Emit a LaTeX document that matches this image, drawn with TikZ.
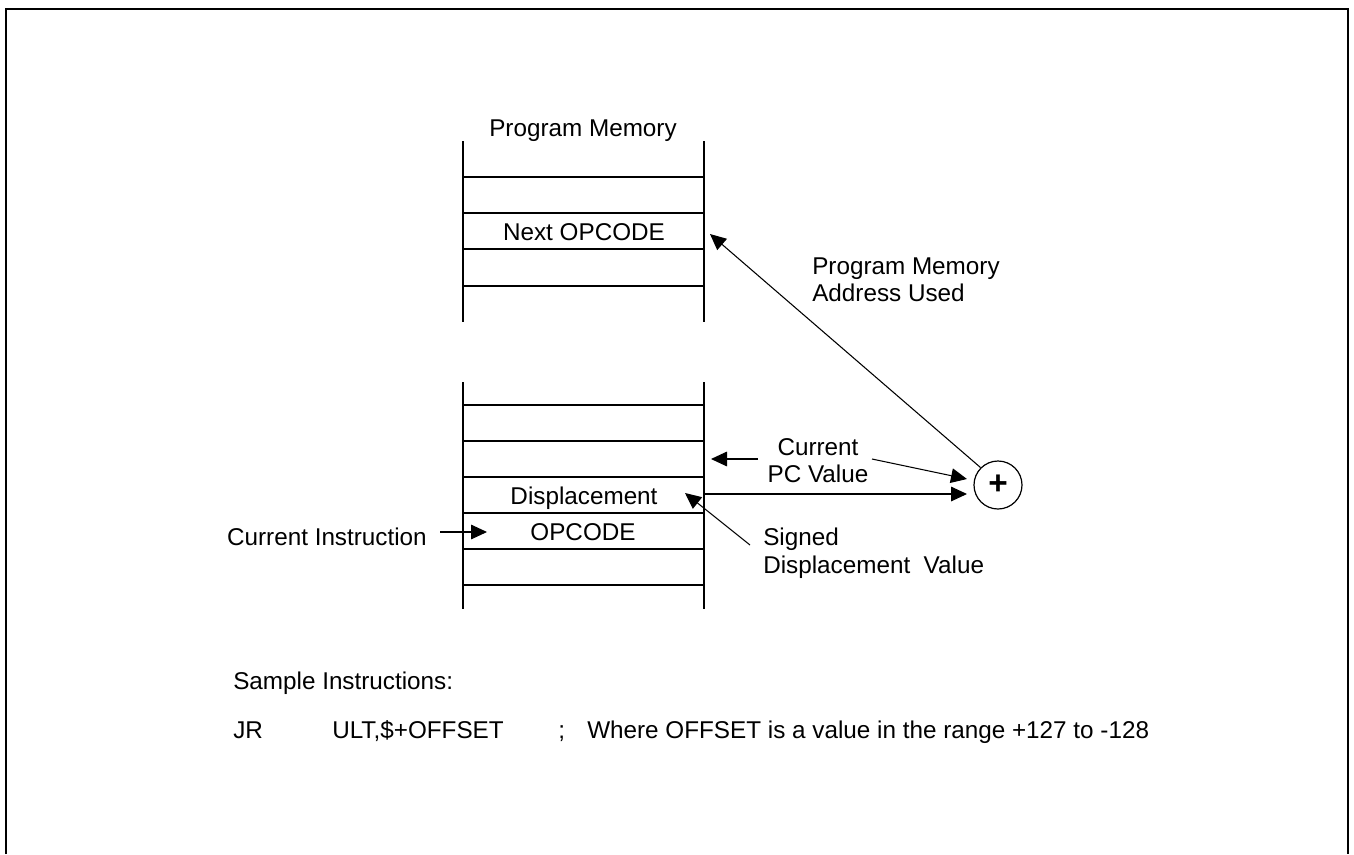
\documentclass[tikz,border=0pt]{standalone}
\usepackage{fontspec}
\setmainfont{Liberation Sans}
\usetikzlibrary{arrows.meta}
\definecolor{INK}{HTML}{000000}

\begin{document}
\begin{tikzpicture}[x=0.75pt,y=-0.75pt]
\tikzset{frame/.style={line width=2pt,INK},cell/.style={line width=1.1pt,INK},
 arr/.style={-{Triangle[length=12pt,width=11pt]},line width=0.8pt,INK},
 lbl/.style={font=\fontsize{18.2}{20}\selectfont,inner sep=0pt,INK},
 sumc/.style={circle,draw=INK,line width=0.9pt,minimum size=36pt,inner sep=0pt,font=\fontsize{25}{25}\selectfont\bfseries}}
\useasboundingbox (0,0) rectangle (1354,854);
\draw[frame] (6,854)--(6,9)--(1348,9)--(1348,854);
% program memory, upper part
\draw[cell] (463,141)--(463,322) (704,141)--(704,322);
\foreach \y in {177,213,249,286}{\draw[cell] (463,\y)--(704,\y);}
% program memory, lower part
\draw[cell] (463,382)--(463,609) (704,382)--(704,609);
\foreach \y in {405,441,477,513,549,585}{\draw[cell] (463,\y)--(704,\y);}
\node[lbl,anchor=base] (pmem) at (583,136) {Program Memory};
\node[lbl,anchor=base] (nextop) at (584,240) {Next OPCODE};
\node[lbl,anchor=base] (disp) at (584,504) {Displacement};
\node[lbl,anchor=base] (opc) at (583,540) {OPCODE};
\node[lbl,anchor=base east] (curins) at (427,545) {Current Instruction};
\node[sumc] (sum) at (998,485) {+};
\node[lbl,anchor=base west] (addr1) at (812,274) {Program Memory};
\node[lbl,anchor=base west] (addr2) at (812,301) {Address Used};
\node[lbl,anchor=base] (pc1) at (818,455) {Current};
\node[lbl,anchor=base] (pc2) at (818,482) {PC Value};
\node[lbl,anchor=base west] (sd1) at (763,545) {Signed};
\node[lbl,anchor=base west] (sd2) at (763,573) {Displacement~~Value};
% end points of the connectors
\coordinate (ci0) at (440,532); \coordinate (ci1) at (487,532);
\coordinate (pcl0) at (758,459); \coordinate (pcl1) at (711,459);
\coordinate (pcr0) at (872,459); \coordinate (pcr1) at (967,479);
\coordinate (dout) at (704,494); \coordinate (din) at (967,494);
\coordinate (sd0) at (750,545); \coordinate (sdtip) at (685,493);
\coordinate (nxt) at (710,234);
\draw[arr] (ci0)--(ci1);
\draw[arr] (pcl0)--(pcl1);
\draw[arr] (pcr0)--(pcr1);
\draw[arr] (dout)--(din);
\draw[arr] (sd0)--(sdtip);
\draw[arr] (sum.135)--(nxt);
% sample listing
\node[lbl,anchor=base west] (sample) at (233,689) {Sample Instructions:};
\node[lbl,anchor=base west] (jr) at (233,738) {JR};
\node[lbl,anchor=base west] (oper) at (332,738) {ULT,\$+OFFSET};
\node[lbl,anchor=base west] (semi) at (558,738) {;};
\node[lbl,anchor=base west] (cmt) at (587,738) {Where OFFSET is a value in the range +127 to -128};
\end{tikzpicture}
\end{document}
